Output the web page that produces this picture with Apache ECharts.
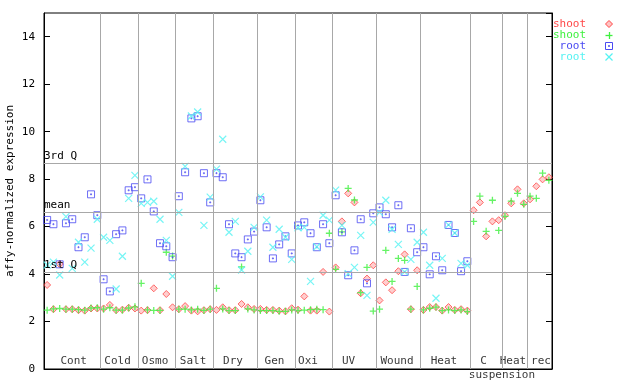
<!DOCTYPE html>
<html>
<head>
<meta charset="utf-8">
<script src="https://cdn.jsdelivr.net/npm/echarts@6/dist/echarts.min.js"></script>
<style>html,body{margin:0;padding:0;background:#fff}#c{width:640px;height:384px}</style>
</head>
<body>
<div id="c"></div>
<script>
// group labels and their x positions (sample index units)
const categories = ['Cont','Cold','Osmo','Salt','Dry','Gen','Oxi','UV','Wound','Heat','C','Heat','rec'];
const categoryPos = [5.24,12.22,18.2,24.26,30.63,37.25,42.59,49.07,56.78,64.27,70.57,75.27,79.74];
const subLabel = 'suspension';
const subLabelPos = 73.52;
// group separators (between sample indices)
const separators = [9.5,15.5,21.5,27.5,34.5,40.5,46.5,53.5,60.5,68.5,73.5,77.5];
// reference lines
const refNames = ['3rd Q','mean','1st Q'];
const refValues = [8.68,6.62,4.09];
const yTickInterval = 2;

// shoot replicate 1 (red diamonds)
const shoot1 = [3.54,2.52,4.42,2.52,2.52,2.48,2.46,2.55,2.55,
  2.55,2.70,2.48,2.50,2.58,2.55,
  2.46,2.48,3.40,2.48,3.16,2.60,
  2.52,2.65,2.46,2.43,2.48,2.52,
  2.49,2.60,2.48,2.48,2.74,2.60,2.53,
  2.53,2.49,2.49,2.46,2.43,2.56,
  2.50,3.06,2.46,2.46,4.09,2.42,
  4.28,6.22,7.40,7.02,3.19,3.81,4.37,
  2.89,3.65,3.32,4.12,4.83,2.52,4.16,
  2.49,2.61,2.61,2.46,2.61,2.49,2.52,2.46,
  6.69,7.02,5.59,6.22,6.27,
  6.48,6.98,7.57,6.98,
  7.15,7.70,7.99,8.08];
// shoot replicate 2 (green plus)
const shoot2 = [2.48,2.53,2.55,2.52,2.52,2.50,2.48,2.57,2.58,
  2.52,2.58,2.48,2.48,2.57,2.62,
  3.61,2.49,2.47,2.47,4.92,4.76,
  2.52,2.52,2.49,2.52,2.47,2.52,
  3.40,2.53,2.46,2.46,4.30,2.53,2.49,
  2.46,2.46,2.46,2.43,2.43,2.49,
  2.46,2.48,2.50,2.52,2.50,5.72,
  4.20,5.78,7.61,7.12,3.22,4.28,2.44,
  2.52,5.00,3.69,4.66,4.58,2.52,3.48,
  2.49,2.56,2.61,2.46,2.49,2.46,2.49,2.42,
  6.22,7.28,5.80,7.11,5.84,
  6.43,7.07,7.40,6.94,
  7.28,7.19,8.25,7.95];
// root replicate 1 (blue squares)
const root1 = [6.28,6.10,4.41,6.14,6.31,5.13,5.55,7.36,6.48,
  3.78,3.27,5.68,5.84,7.53,7.66,
  7.19,7.99,6.64,5.30,5.17,4.71,
  7.28,8.29,10.56,10.65,8.25,7.02,
  8.25,8.08,6.10,4.87,4.71,5.46,5.79,
  7.11,5.97,4.66,5.25,5.59,4.87,
  6.05,6.18,5.72,5.13,6.10,5.30,
  7.32,5.76,3.95,5.00,6.31,3.61,6.56,
  6.81,6.52,5.97,6.90,4.09,5.93,4.92,
  5.13,3.99,4.75,4.16,6.07,5.73,4.12,4.54];
// root replicate 2 (cyan crosses)
const root2 = [4.38,4.50,3.96,6.42,4.24,5.34,4.50,5.09,6.31,
  5.55,5.42,3.37,4.75,7.19,8.16,
  6.98,7.02,7.07,6.31,5.42,3.91,
  6.60,8.54,10.66,10.83,6.05,7.24,
  8.42,9.68,5.76,6.22,4.17,4.96,5.97,
  7.25,6.27,5.13,5.89,5.55,4.62,
  5.95,5.97,3.69,5.15,6.48,6.27,
  7.54,6.05,4.02,4.28,5.63,3.10,6.18,
  6.60,7.11,5.89,5.25,4.09,4.62,5.34,
  5.76,4.37,2.98,4.66,6.07,5.73,4.45,4.37];

const RED='#ff4848', GREEN='#3ff03f', BLUE='#4a4af2', CYAN='#55f2f2', GREY='#a8a8a8';
const FONT='"DejaVu Sans Mono", "Liberation Mono", monospace';
const toPts = arr => arr.map((v,i)=>[i+1,v]);

const chart = echarts.init(document.getElementById('c'), null, {renderer:'canvas'});

const markData = separators.map(v=>({xAxis:v, label:{show:false}}))
  .concat(refValues.map((v,i)=>({yAxis:v, name:refNames[i]})));

const labelData = categories.map((n,i)=>[categoryPos[i],0.32,n]).concat([[subLabelPos,-0.27,subLabel]]);

chart.setOption({
  animation:false,
  backgroundColor:'#fff',
  grid:{left:44,right:88,top:13,bottom:15,containLabel:false,outerBoundsMode:'none',
    show:true,borderColor:'#000',borderWidth:1,backgroundColor:'transparent'},
  xAxis:{type:'value',min:0.5,max:81.5,
    axisLine:{show:true,onZero:false,lineStyle:{color:'#000',width:1}},
    axisTick:{show:false},axisLabel:{show:false},splitLine:{show:false}},
  yAxis:[{type:'value',min:0,max:15,interval:yTickInterval,position:'left',
    name:'affy-normalized expression',nameLocation:'middle',nameGap:28,nameRotate:90,
    nameMoveOverlap:false,
    nameTextStyle:{color:'#000',fontFamily:FONT,fontSize:11},
    axisLine:{show:true,onZero:false,lineStyle:{color:'#000',width:1}},
    axisTick:{show:true,inside:true,length:6,lineStyle:{color:'#000'}},
    axisLabel:{color:'#000',fontFamily:FONT,fontSize:11,margin:9,showMaxLabel:false,
      formatter:v=> (v%yTickInterval===0 && v<15) ? String(v) : ''},
    splitLine:{show:false}},
   {type:'value',min:0,max:15,interval:yTickInterval,position:'right',
    axisLine:{show:true,onZero:false,lineStyle:{color:'#000',width:1}},
    axisTick:{show:true,inside:true,length:6,lineStyle:{color:'#000'}},
    axisLabel:{show:false},splitLine:{show:false}}],
  series:[
    {type:'scatter',data:[],silent:true,
      markLine:{silent:true,symbol:['none','none'],animation:false,
        lineStyle:{color:GREY,width:1,type:'solid'},
        label:{show:true,position:'insideStartTop',formatter:p=>p.name,color:'#000',
          fontFamily:FONT,fontSize:11,distance:[0,1],padding:0},
        emphasis:{disabled:true},
        data:markData}},
    {name:'shoot',type:'scatter',data:toPts(shoot1),symbol:'diamond',symbolSize:7,silent:true,
      itemStyle:{color:'rgba(255,80,80,0.35)',borderColor:RED,borderWidth:1}},
    {name:'shoot',type:'scatter',data:toPts(shoot2),symbol:'path://M3.5,0V7M0,3.5H7',symbolSize:7,silent:true,
      itemStyle:{color:'transparent',borderColor:GREEN,borderWidth:1.3}},
    {name:'root',type:'scatter',data:toPts(root1),symbol:'path://M0,0H7V7H0ZM3,3H4V4H3Z',symbolSize:7,silent:true,
      itemStyle:{color:'transparent',borderColor:BLUE,borderWidth:1}},
    {name:'root',type:'scatter',data:toPts(root2),symbol:'path://M0,0L7,7M7,0L0,7',symbolSize:7,silent:true,
      itemStyle:{color:'transparent',borderColor:CYAN,borderWidth:1.2}},
    {type:'scatter',data:labelData,symbolSize:0,silent:true,clip:false,
      label:{show:true,position:'inside',formatter:p=>p.data[2],color:'#000',fontFamily:FONT,fontSize:11}}
  ],
  graphic:[
    {type:'text',x:586,y:24,style:{text:'shoot',fill:RED,font:'11px '+FONT,textAlign:'right',textVerticalAlign:'middle'}},
    {type:'text',x:586,y:35,style:{text:'shoot',fill:GREEN,font:'11px '+FONT,textAlign:'right',textVerticalAlign:'middle'}},
    {type:'text',x:586,y:46,style:{text:'root',fill:BLUE,font:'11px '+FONT,textAlign:'right',textVerticalAlign:'middle'}},
    {type:'text',x:586,y:57,style:{text:'root',fill:CYAN,font:'11px '+FONT,textAlign:'right',textVerticalAlign:'middle'}},
    {type:'polygon',shape:{points:[[609,20.5],[612.5,24],[609,27.5],[605.5,24]]},style:{fill:'rgba(255,80,80,0.35)',stroke:RED,lineWidth:1}},
    {type:'polyline',shape:{points:[[605.5,35.5],[612.5,35.5]]},style:{stroke:GREEN,lineWidth:1.3,fill:null}},
    {type:'polyline',shape:{points:[[609.5,32],[609.5,39]]},style:{stroke:GREEN,lineWidth:1.3,fill:null}},
    {type:'rect',shape:{x:605.5,y:42.5,width:7,height:7},style:{stroke:BLUE,fill:null,lineWidth:1}},
    {type:'rect',shape:{x:608.5,y:45.5,width:1,height:1},style:{stroke:BLUE,fill:null,lineWidth:1}},
    {type:'polyline',shape:{points:[[605.5,53.5],[612.5,60.5]]},style:{stroke:CYAN,lineWidth:1.2,fill:null}},
    {type:'polyline',shape:{points:[[612.5,53.5],[605.5,60.5]]},style:{stroke:CYAN,lineWidth:1.2,fill:null}}
  ]
});
</script>
</body>
</html>
